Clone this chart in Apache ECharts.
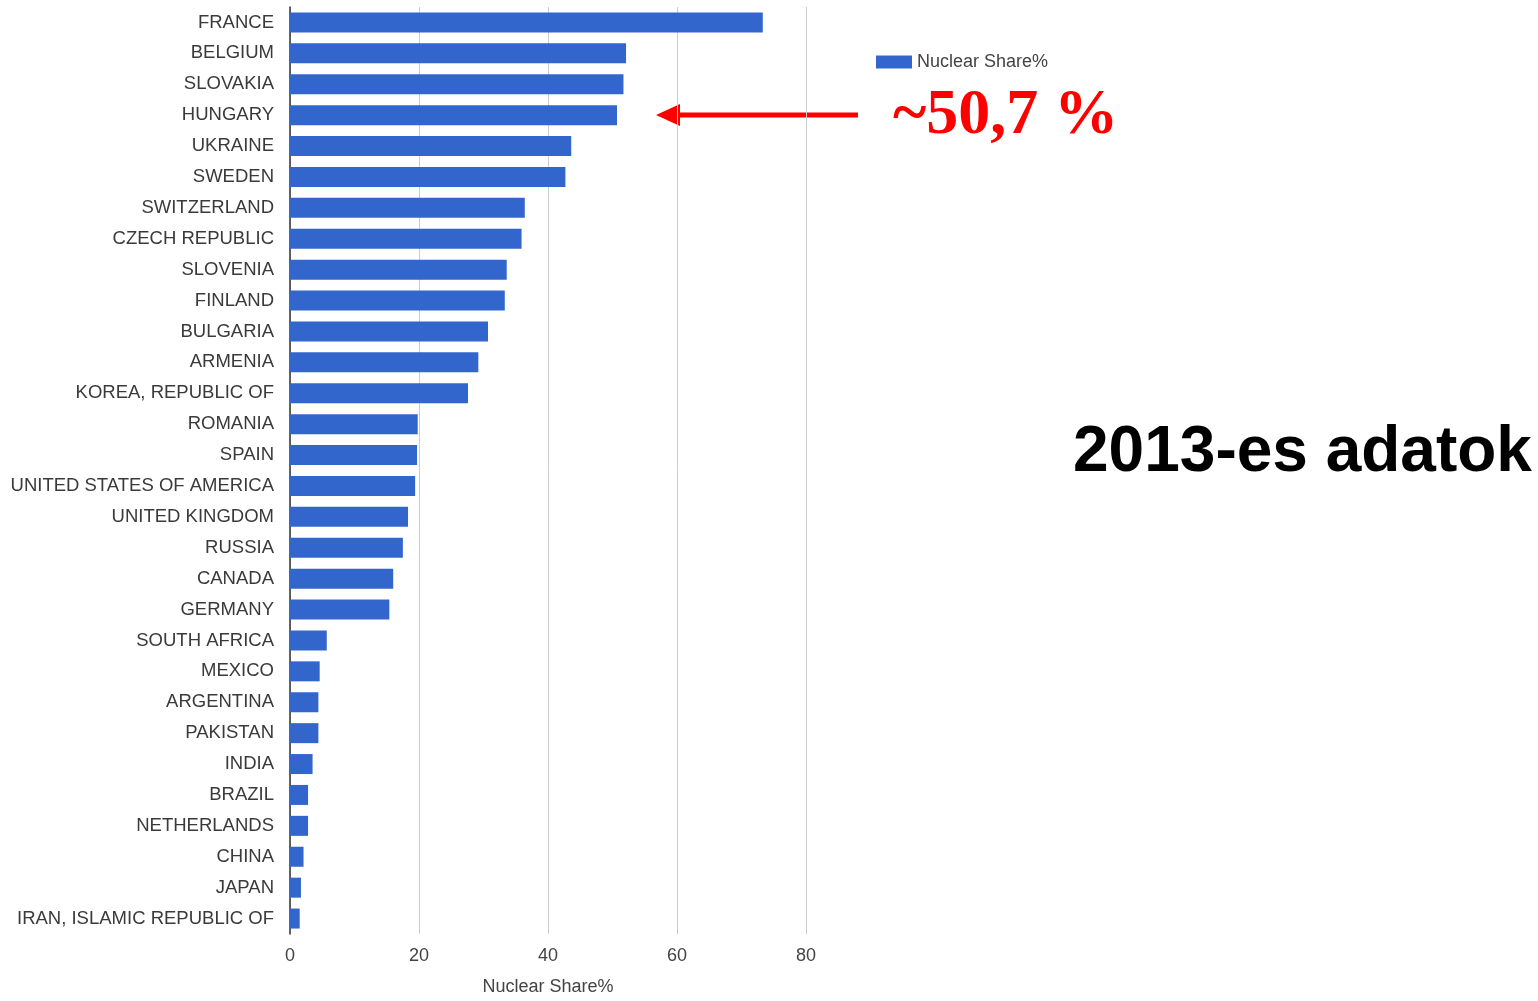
<!DOCTYPE html>
<html>
<head>
<meta charset="utf-8">
<script src="https://cdn.jsdelivr.net/npm/echarts@6/dist/echarts.min.js"></script>
<style>
html,body{margin:0;padding:0;background:#fff;overflow:hidden;}
#chart{width:1538px;height:1001px;}
</style>
</head>
<body>
<div id="chart"></div>
<script>
const countries = ["FRANCE","BELGIUM","SLOVAKIA","HUNGARY","UKRAINE","SWEDEN","SWITZERLAND","CZECH REPUBLIC","SLOVENIA","FINLAND","BULGARIA","ARMENIA","KOREA, REPUBLIC OF","ROMANIA","SPAIN","UNITED STATES OF AMERICA","UNITED KINGDOM","RUSSIA","CANADA","GERMANY","SOUTH AFRICA","MEXICO","ARGENTINA","PAKISTAN","INDIA","BRAZIL","NETHERLANDS","CHINA","JAPAN","IRAN, ISLAMIC REPUBLIC OF"];
const nuclearShare = [73.3,52.1,51.7,50.7,43.6,42.7,36.4,35.9,33.6,33.3,30.7,29.2,27.6,19.8,19.7,19.4,18.3,17.5,16.0,15.4,5.7,4.6,4.4,4.4,3.5,2.8,2.8,2.1,1.7,1.5];
const xTicks = [0,20,40,60,80];
const seriesName = "Nuclear Share%";
const annotationText = "~50,7 %";
const sideTitle = "2013-es adatok";

const chart = echarts.init(document.getElementById('chart'), null, {width:1538, height:1001});
chart.setOption({
  backgroundColor:'#ffffff',
  animation:false,
  grid:{left:290,width:516,top:7,height:940,containLabel:false},
  legend:{
    data:[{name:seriesName,icon:'rect'}],
    left:871, top:48,
    itemWidth:36, itemHeight:13,
    textStyle:{fontFamily:'Liberation Sans, Arial, sans-serif',fontSize:18,color:'#444'},
    itemGap:10
  },
  xAxis:{
    type:'value',
    min:xTicks[0], max:xTicks[xTicks.length-1], interval:20,
    name:seriesName, nameLocation:'middle', nameGap:44,
    nameTextStyle:{fontFamily:'Liberation Sans, Arial, sans-serif',fontSize:18,color:'#444'},
    axisLine:{show:false},
    axisTick:{show:false},
    axisLabel:{fontFamily:'Liberation Sans, Arial, sans-serif',fontSize:18,color:'#444',margin:13},
    splitLine:{show:true,lineStyle:{color:'#cccccc',width:1}}
  },
  yAxis:{
    type:'category',
    data:countries,
    inverse:true,
    axisLine:{show:true,lineStyle:{color:'#333',width:1.5}},
    axisTick:{show:false},
    axisLabel:{fontFamily:'Liberation Sans, Arial, sans-serif',fontSize:18.5,color:'#3a3a3a',margin:16},
    splitLine:{show:false}
  },
  series:[{
    name:seriesName,
    type:'bar',
    data:nuclearShare,
    barWidth:20,
    itemStyle:{color:'#3366cc'}
  }],
  graphic:[
    {type:'line',shape:{x1:858,y1:115,x2:680,y2:115},style:{stroke:'#ff0000',lineWidth:5}},
    {type:'polygon',shape:{points:[[656,115],[680,104],[680,126]]},style:{fill:'#ff0000'}},
    {type:'text',left:893,top:84,style:{text:annotationText,fill:'#ff0000',font:'bold 64px "Liberation Serif", "Times New Roman", serif'}},
    {type:'text',left:1073,top:421,style:{text:sideTitle,fill:'#000',font:'bold 64px "Liberation Sans", Arial, sans-serif',shadowColor:'rgba(0,0,0,0.45)',shadowBlur:4,shadowOffsetX:3,shadowOffsetY:3}}
  ]
});
</script>
</body>
</html>
